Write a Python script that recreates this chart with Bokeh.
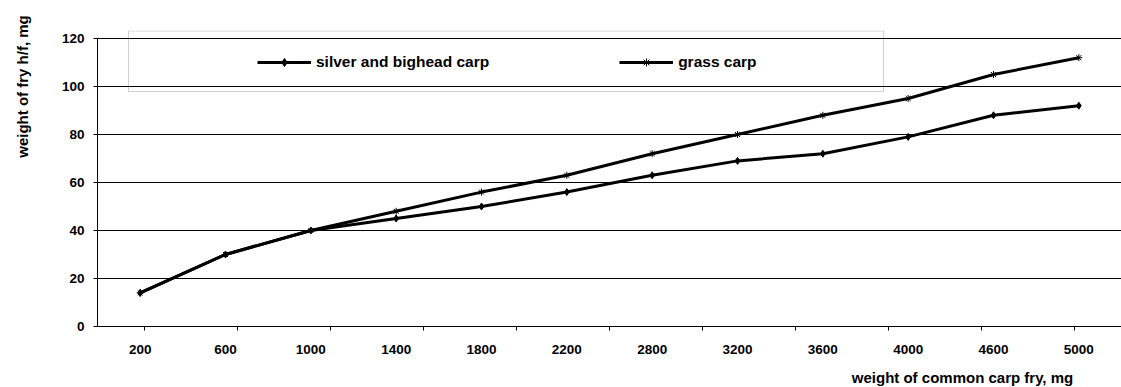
from bokeh.plotting import figure
from bokeh.layouts import row, column
from bokeh.models import (FactorRange, Range1d, CategoricalAxis, FixedTicker,
                          Legend, LegendItem, BoxAnnotation, Label)
from bokeh.embed import file_html
from bokeh.resources import INLINE
import math

categories = ["200", "600", "1000", "1400", "1800", "2200", "2800", "3200", "3600", "4000", "4600", "5000"]
silver = [14, 30, 40, 45, 50, 56, 63, 69, 72, 79, 88, 92]
grass = [14, 30, 40, 48, 56, 63, 72, 80, 88, 95, 105, 112]
y_ticks = [0, 20, 40, 60, 80, 100, 120]
y_title = "weight of fry h/f, mg"
x_title = "weight of common carp fry, mg"

FONT = "Liberation Sans"


def blank(width, height):
    f = figure(width=width, height=height, x_range=Range1d(0, 1), y_range=Range1d(0, 1),
               output_backend="svg", toolbar_location=None,
               x_axis_location=None, y_axis_location=None, min_border=0)
    f.outline_line_color = None
    f.xgrid.visible = False
    f.ygrid.visible = False
    return f


# left strip holding the y-axis title
left = blank(40, 387)
left.add_layout(Label(x=22, y=86, x_units="canvas", y_units="canvas",
                      text=y_title, angle=math.pi / 2,
                      text_align="center", text_baseline="middle",
                      text_font=FONT, text_font_style="bold", text_font_size="15px",
                      text_color="black"))

# main chart
p = figure(width=1081, height=362,
           x_range=FactorRange(*categories), y_range=Range1d(0, 123.33),
           output_backend="svg", toolbar_location=None,
           x_axis_location=None, y_axis_location="left",
           min_border_left=57, min_border_right=0, min_border_top=30, min_border_bottom=36)
p.outline_line_color = None
p.xgrid.visible = False
p.ygrid.ticker = FixedTicker(ticks=y_ticks)
p.ygrid.grid_line_color = "black"
p.ygrid.grid_line_width = 1

yax = p.yaxis[0]
yax.ticker = FixedTicker(ticks=y_ticks)
yax.bounds = (0, 120)
yax.axis_line_color = "black"
yax.major_tick_line_color = "black"
yax.major_tick_in = 0
yax.major_tick_out = 4
yax.minor_tick_line_color = None
yax.major_label_text_font = FONT
yax.major_label_text_font_style = "bold"
yax.major_label_text_font_size = "13.5px"
yax.major_label_text_color = "black"
yax.major_label_standoff = 9

# tick-only axis with ticks at category boundaries (boundary factors shifted by half a step)
boundaries = ["b%d" % i for i in range(len(categories) + 1)]
p.extra_x_ranges = {"ticks": FactorRange(*boundaries, range_padding=-1, range_padding_units="absolute")}
tick_axis = CategoricalAxis(x_range_name="ticks",
                            major_label_text_font_size="1px", major_label_text_color=None,
                            major_label_standoff=0,
                            major_tick_in=0, major_tick_out=4,
                            minor_tick_line_color=None,
                            axis_line_color="black", major_tick_line_color="black")
p.add_layout(tick_axis, "below")

cat_axis = CategoricalAxis(axis_line_color=None, major_tick_line_color=None,
                           minor_tick_line_color=None,
                           major_label_text_font=FONT, major_label_text_font_style="bold",
                           major_label_text_font_size="13.5px", major_label_text_color="black",
                           major_label_standoff=8)
p.add_layout(cat_axis, "below")

l1 = p.line(x=categories, y=silver, line_color="black", line_width=3)
s1 = p.scatter(x=categories, y=silver, marker="diamond", size=7, fill_color="black", line_color="black")
l2 = p.line(x=categories, y=grass, line_color="black", line_width=3)
s2 = p.scatter(x=categories, y=grass, marker="asterisk", size=7, line_color="black", line_width=1)

legend = Legend(items=[LegendItem(label="silver and bighead carp", renderers=[l1, s1]),
                       LegendItem(label="grass carp", renderers=[l2, s2])],
                orientation="horizontal", location=(160, 254),
                border_line_color=None, background_fill_alpha=0,
                padding=0, margin=0, spacing=130,
                glyph_width=54, glyph_height=20, label_height=20, label_standoff=5,
                label_text_font=FONT, label_text_font_style="bold",
                label_text_font_size="15.5px", label_text_color="black")
p.add_layout(legend)

box = BoxAnnotation(left=88, right=843, top=30.5, bottom=91,
                    left_units="canvas", right_units="canvas",
                    top_units="canvas", bottom_units="canvas",
                    fill_alpha=0, line_color="#666666", line_width=1)
p.add_layout(box)

# bottom strip holding the x-axis title
bottom = blank(1081, 25)
bottom.add_layout(Label(x=922, y=15, x_units="canvas", y_units="canvas",
                        text=x_title,
                        text_align="center", text_baseline="middle",
                        text_font=FONT, text_font_style="bold", text_font_size="15px",
                        text_color="black"))

layout = row(left, column(p, bottom, spacing=0), spacing=0)

open("out.html", "w").write(file_html(layout, INLINE))
